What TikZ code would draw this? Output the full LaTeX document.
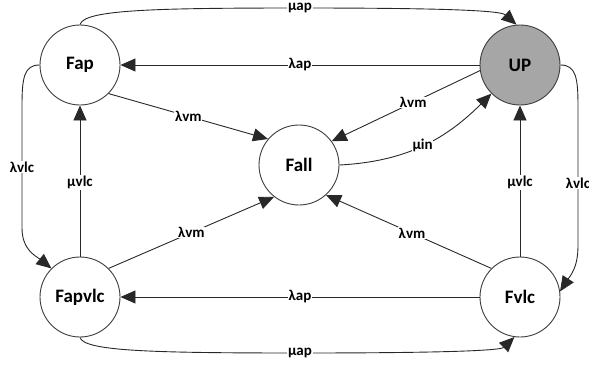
\documentclass[tikz,border=0pt]{standalone}
\usepackage{fontspec}
\setmainfont{Carlito}
\usetikzlibrary{arrows.meta}
\definecolor{upgray}{RGB}{166,166,166}
\definecolor{edgecol}{RGB}{40,40,40}
\begin{document}
\begin{tikzpicture}[x=1pt,y=1pt,
  state/.style={circle,draw=edgecol!90,line width=0.9pt,fill=white,minimum size=80pt,inner sep=0pt,font=\fontsize{19}{21}\selectfont\bfseries},
  conn/.style={draw=edgecol,line width=0.9pt},
  arr/.style={conn,-{Triangle[length=15pt,width=13pt]}},
  lbl/.style={fill=white,inner sep=0.6pt,font=\fontsize{15}{17}\selectfont\bfseries}]
\useasboundingbox (0,0) rectangle (589,368);
\node[state] (Fap) at (80,303) {Fap};
\node[state,fill=upgray] (UP) at (520,303) {UP};
\node[state] (Fall) at (299,203) {Fall};
\node[state] (Fapvlc) at (80,71) {Fapvlc};
\node[state] (Fvlc) at (520,71) {Fvlc};
% top mu ap
\draw[arr] (Fap.north) .. controls (84,358) and (150,360) .. (300,360) node[lbl]{μap}
  .. controls (430,360) and (500,358) .. (UP.95);
% lambda ap top
\draw[arr] (UP.west) -- node[lbl,pos=0.5]{λap} (Fap.east);
% lambda vm Fap -> Fall
\draw[arr] (Fap.-45) -- node[lbl,pos=0.5]{λvm} (Fall.140);
% lambda vm UP -> Fall
\draw[arr] (UP.188) -- node[lbl,pos=0.45]{λvm} (Fall.36);
% mu in
\draw[arr] (Fall.east) to[out=3,in=225] node[lbl,pos=0.5]{µin} (UP.225);
% lambda vlc left
\draw[arr] (Fap.west) .. controls (24,303) and (22,290) .. (22,262)
  -- node[lbl,pos=0.5]{λvlc} (22,140)
  .. controls (22,118) and (36,112) .. (Fapvlc.135);
% mu vlc left
\draw[arr] (Fapvlc.north) -- node[lbl,pos=0.49]{µvlc} (Fap.south);
% lambda vm Fapvlc -> Fall
\draw[arr] (Fapvlc.45) -- node[lbl,pos=0.5]{λvm} (Fall.232);
% lambda ap bottom
\draw[arr] (Fvlc.west) -- node[lbl,pos=0.5]{λap} (Fapvlc.east);
% bottom mu ap
\draw[arr] (Fapvlc.south) .. controls (84,17) and (150,15) .. (300,15) node[lbl]{µap}
  .. controls (430,15) and (500,17) .. (Fvlc.262);
% lambda vm Fvlc -> Fall
\draw[arr] (Fvlc.135) -- node[lbl,pos=0.48]{λvm} (Fall.-48);
% mu vlc right
\draw[arr] (Fvlc.north) -- node[lbl,pos=0.49]{µvlc} (UP.south);
% lambda vlc right
\draw[arr] (UP.east) .. controls (576,303) and (578,290) .. (578,262)
  -- node[lbl,pos=0.55]{λvlc} (578,122)
  .. controls (578,100) and (570,92) .. (Fvlc.8);
\end{tikzpicture}
\end{document}
